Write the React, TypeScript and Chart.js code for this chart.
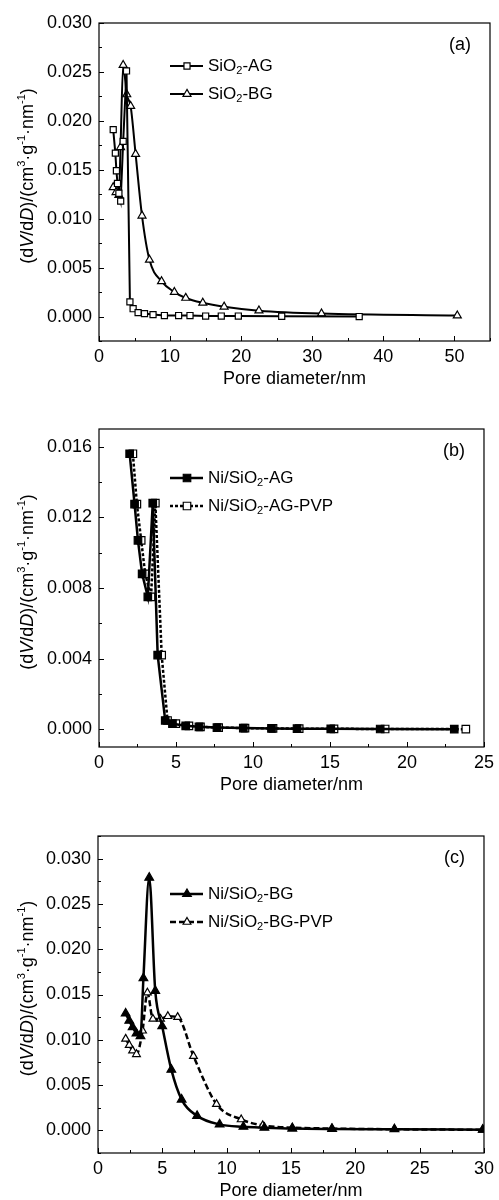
import React, { useEffect, useRef } from "react";
import { Chart, registerables } from "chart.js";

Chart.register(...registerables);

const FONT = '"Liberation Sans", Arial, Helvetica, sans-serif';

// ---- Panel (a): bare silica supports ----
const agPoreA = [2.0, 2.3, 2.45, 2.6, 2.8, 3.05, 3.4, 3.87, 4.35, 4.8, 5.5, 6.4, 7.6, 9.2, 11.2, 12.8, 15.0, 17.2, 19.6, 25.7, 36.6];
const agDvA = [0.0191, 0.0167, 0.0149, 0.0136, 0.0126, 0.0118, 0.0179, 0.0251, 0.0015, 0.0008, 0.0004, 0.0003, 0.0002, 0.0001, 0.0001, 0.0001, 0.00005, 0.00005, 0.00005, 0.00003, 0.0];
const bgPoreA = [2.0, 2.4, 2.8, 3.03, 3.4, 3.9, 4.45, 5.15, 6.05, 7.1, 8.8, 10.6, 12.2, 14.6, 17.6, 22.5, 31.3, 50.4];
const bgDvA = [0.0132, 0.0127, 0.0124, 0.0173, 0.0257, 0.0227, 0.0215, 0.0166, 0.0103, 0.0058, 0.0036, 0.0025, 0.0019, 0.0014, 0.001, 0.0006, 0.0003, 0.0001];
const xTicksA = [0, 10, 20, 30, 40, 50];
const yTicksA = [0, 0.005, 0.01, 0.015, 0.02, 0.025, 0.03];

// ---- Panel (b): Ni on SiO2-AG ----
const agPoreB = [1.99, 2.31, 2.53, 2.8, 3.17, 3.49, 3.81, 4.3, 4.77, 5.63, 6.49, 7.66, 9.37, 11.2, 12.86, 15.05, 18.26, 23.07];
const agDvB = [0.0156, 0.01275, 0.0107, 0.0088, 0.0075, 0.0128, 0.0042, 0.0005, 0.00032, 0.0002, 0.00014, 0.0001, 0.00007, 0.00005, 0.00004, 0.00003, 0.00002, 0.00001];
const pvpPoreB = [2.2, 2.46, 2.74, 3.0, 3.38, 3.66, 4.07, 4.45, 4.99, 5.84, 6.59, 7.77, 9.48, 11.3, 13.0, 15.26, 18.58, 23.82];
const pvpDvB = [0.0156, 0.01275, 0.0107, 0.0088, 0.0075, 0.0128, 0.0042, 0.0005, 0.00032, 0.0002, 0.00014, 0.0001, 0.00007, 0.00005, 0.00004, 0.00003, 0.00002, 0.00001];
const xTicksB = [0, 5, 10, 15, 20, 25];
const yTicksB = [0, 0.004, 0.008, 0.012, 0.016];

// ---- Panel (c): Ni on SiO2-BG ----
const bgPoreC = [2.15, 2.43, 2.69, 2.99, 3.3, 3.53, 3.98, 4.45, 4.99, 5.7, 6.5, 7.7, 9.45, 11.3, 12.93, 15.1, 18.2, 23.04, 29.9];
const bgDvC = [0.0129, 0.0121, 0.0114, 0.0107, 0.0104, 0.0168, 0.0279, 0.0154, 0.0115, 0.0067, 0.0034, 0.0016, 0.00066, 0.0004, 0.0003, 0.0002, 0.00015, 0.00012, 0.00008];
const pvpPoreC = [2.15, 2.43, 2.69, 2.99, 3.46, 3.84, 4.27, 4.86, 5.43, 6.19, 7.42, 9.21, 11.13, 12.8, 15.1, 18.17, 23.04, 29.9];
const pvpDvC = [0.0101, 0.0094, 0.0088, 0.0084, 0.011, 0.0152, 0.0123, 0.0123, 0.0126, 0.0125, 0.0082, 0.0029, 0.0012, 0.00055, 0.0003, 0.0002, 0.00012, 0.00006];
const xTicksC = [0, 5, 10, 15, 20, 25, 30];
const yTicksC = [0, 0.005, 0.01, 0.015, 0.02, 0.025, 0.03];

const xTitle = "Pore diameter/nm";
// rich y-axis title: [text, mode] with mode "" | "i" (italic) | "sup"
const yTitle: [string, string][] = [
  ["(d", ""], ["V", "i"], ["/d", ""], ["D", "i"], [")/(cm", ""], ["3", "sup"],
  ["·g", ""], ["-1", "sup"], ["·nm", ""], ["-1", "sup"], [")", ""],
];

type SeriesDef = {
  label: string; // "_2" marks a subscript digit
  x: number[];
  y: number[];
  marker: "rect" | "triangle";
  filled: boolean;
  radius: number;
  lineWidth: number;
  dash: number[];
  smooth: boolean;
};

type PanelDef = {
  tag: string;
  top: number;
  area: { left: number; right: number; top: number; bottom: number };
  xMin: number; xMax: number; yMin: number; yMax: number;
  xTicks: number[]; yTicks: number[];
  xMinor: number; yMinor: number;
  legendTop: number;
  series: SeriesDef[];
};

const panels: PanelDef[] = [
  {
    tag: "(a)", top: 0,
    area: { left: 99, right: 490, top: 23, bottom: 341 },
    xMin: 0, xMax: 55, yMin: -0.0025, yMax: 0.03,
    xTicks: xTicksA, yTicks: yTicksA, xMinor: 5, yMinor: 0.0025,
    legendTop: 43,
    series: [
      { label: "SiO_2-AG", x: agPoreA, y: agDvA, marker: "rect", filled: false, radius: 4.3, lineWidth: 2, dash: [], smooth: false },
      { label: "SiO_2-BG", x: bgPoreA, y: bgDvA, marker: "triangle", filled: false, radius: 4.6, lineWidth: 2, dash: [], smooth: true },
    ],
  },
  {
    tag: "(b)", top: 400,
    area: { left: 99, right: 488, top: 29, bottom: 347 },
    xMin: 0, xMax: 25, yMin: -0.001, yMax: 0.017,
    xTicks: xTicksB, yTicks: yTicksB, xMinor: 2.5, yMinor: 0.002,
    legendTop: 49,
    series: [
      { label: "Ni/SiO_2-AG", x: agPoreB, y: agDvB, marker: "rect", filled: true, radius: 5.3, lineWidth: 2.5, dash: [], smooth: false },
      { label: "Ni/SiO_2-AG-PVP", x: pvpPoreB, y: pvpDvB, marker: "rect", filled: false, radius: 5.3, lineWidth: 2.5, dash: [3, 2], smooth: false },
    ],
  },
  {
    tag: "(c)", top: 800,
    area: { left: 98, right: 489, top: 36, bottom: 353 },
    xMin: 0, xMax: 30, yMin: -0.0025, yMax: 0.0325,
    xTicks: xTicksC, yTicks: yTicksC, xMinor: 2.5, yMinor: 0.0025,
    legendTop: 58,
    series: [
      { label: "Ni/SiO_2-BG", x: bgPoreC, y: bgDvC, marker: "triangle", filled: true, radius: 5, lineWidth: 2.5, dash: [], smooth: true },
      { label: "Ni/SiO_2-BG-PVP", x: pvpPoreC, y: pvpDvC, marker: "triangle", filled: false, radius: 4.5, lineWidth: 2.5, dash: [6, 3], smooth: true },
    ],
  },
];

const W = 499;
const H = 400;

function fontFor(mode: string, size: number) {
  if (mode === "i") return `italic ${size}px ${FONT}`;
  if (mode === "sup" || mode === "sub") return `${Math.round(size * 0.62)}px ${FONT}`;
  return `${size}px ${FONT}`;
}

function drawRich(ctx: CanvasRenderingContext2D, segs: [string, string][], x: number, y: number, size: number, align: "left" | "center") {
  ctx.textBaseline = "middle";
  ctx.textAlign = "left";
  const widths = segs.map(([t, m]) => {
    ctx.font = fontFor(m, size);
    return ctx.measureText(t).width;
  });
  const total = widths.reduce((a, b) => a + b, 0);
  let cx = align === "center" ? x - total / 2 : x;
  segs.forEach(([t, m], i) => {
    ctx.font = fontFor(m, size);
    const dy = m === "sup" ? -size * 0.36 : m === "sub" ? size * 0.3 : 0;
    ctx.fillText(t, cx, y + dy);
    cx += widths[i];
  });
}

function parseLabel(label: string): [string, string][] {
  const out: [string, string][] = [];
  label.split(/(_\d)/).forEach((part) => {
    if (!part) return;
    if (part.startsWith("_")) out.push([part.slice(1), "sub"]);
    else out.push([part, ""]);
  });
  return out;
}

function drawMarker(ctx: CanvasRenderingContext2D, s: SeriesDef, x: number, y: number) {
  ctx.beginPath();
  if (s.marker === "rect") {
    const h = Math.SQRT1_2 * s.radius;
    ctx.rect(x - h, y - h, 2 * h, 2 * h);
  } else {
    const r = s.radius;
    ctx.moveTo(x, y - r);
    ctx.lineTo(x + r * Math.sin((2 * Math.PI) / 3), y - r * Math.cos((2 * Math.PI) / 3));
    ctx.lineTo(x + r * Math.sin((4 * Math.PI) / 3), y - r * Math.cos((4 * Math.PI) / 3));
    ctx.closePath();
  }
  ctx.fillStyle = s.filled ? "#000" : "#fff";
  ctx.fill();
  ctx.setLineDash([]);
  ctx.lineWidth = 1.2;
  ctx.strokeStyle = "#000";
  ctx.stroke();
}

function makeDecor(p: PanelDef) {
  return {
    id: "decor",
    afterDraw(chart: any) {
      const ctx: CanvasRenderingContext2D = chart.ctx;
      const { left, right, top, bottom } = chart.chartArea;
      const xs = chart.scales.x;
      const ys = chart.scales.y;
      ctx.save();
      ctx.strokeStyle = "#000";
      ctx.fillStyle = "#000";
      ctx.setLineDash([]);

      // inward ticks, major and minor
      ctx.lineWidth = 1;
      ctx.beginPath();
      const kx0 = Math.ceil(p.xMin / p.xMinor);
      const kx1 = Math.floor(p.xMax / p.xMinor);
      for (let k = kx0; k <= kx1; k++) {
        const v = k * p.xMinor;
        const px = Math.round(xs.getPixelForValue(v)) + 0.5;
        const major = p.xTicks.some((t) => Math.abs(t - v) < 1e-9);
        const len = major ? 5 : 3;
        ctx.moveTo(px, bottom);
        ctx.lineTo(px, bottom - len);
      }
      const ky0 = Math.ceil(p.yMin / p.yMinor - 1e-9);
      const ky1 = Math.floor(p.yMax / p.yMinor + 1e-9);
      for (let k = ky0; k <= ky1; k++) {
        const v = k * p.yMinor;
        const py = Math.round(ys.getPixelForValue(v)) + 0.5;
        const major = p.yTicks.some((t) => Math.abs(t - v) < 1e-9);
        const len = major ? 5 : 3;
        ctx.moveTo(left, py);
        ctx.lineTo(left + len, py);
      }
      ctx.stroke();

      // frame
      ctx.lineWidth = 1.2;
      ctx.strokeRect(left, top, right - left, bottom - top);

      // axis titles
      ctx.font = `18px ${FONT}`;
      ctx.textAlign = "center";
      ctx.textBaseline = "middle";
      ctx.fillText(xTitle, (left + right) / 2, bottom + 38);

      ctx.save();
      ctx.translate(28, (top + bottom) / 2 - 6);
      ctx.rotate(-Math.PI / 2);
      drawRich(ctx, yTitle, 0, 0, 18, "center");
      ctx.restore();

      // panel tag
      ctx.font = `18px ${FONT}`;
      ctx.textAlign = "right";
      ctx.textBaseline = "middle";
      ctx.fillText(p.tag, right - 19, top + 22);

      // legend
      p.series.forEach((s, i) => {
        const y = top + p.legendTop + i * 28;
        ctx.beginPath();
        ctx.setLineDash(s.dash);
        ctx.lineWidth = s.lineWidth;
        ctx.strokeStyle = "#000";
        ctx.moveTo(170, y);
        ctx.lineTo(203, y);
        ctx.stroke();
        drawMarker(ctx, s, 187, y);
        ctx.fillStyle = "#000";
        drawRich(ctx, parseLabel(s.label), 208, y, 17, "left");
      });
      ctx.restore();
    },
  };
}

function PanelChart({ p }: { p: PanelDef }) {
  const ref = useRef<HTMLCanvasElement | null>(null);
  useEffect(() => {
    if (!ref.current) return;
    const chart = new Chart(ref.current, {
      type: "line",
      data: {
        datasets: p.series.map((s) => ({
          label: s.label.replace("_", ""),
          data: s.x.map((x, i) => ({ x, y: s.y[i] })),
          borderColor: "#000",
          borderWidth: s.lineWidth,
          borderDash: s.dash,
          cubicInterpolationMode: s.smooth ? "monotone" : "default",
          tension: 0,
          pointStyle: s.marker,
          pointRadius: s.radius,
          pointBorderWidth: 1.2,
          pointBorderColor: "#000",
          pointBackgroundColor: s.filled ? "#000" : "#fff",
          fill: false,
        })),
      } as any,
      options: {
        animation: false,
        responsive: false,
        devicePixelRatio: 1,
        layout: { padding: { top: p.area.top, right: W - p.area.right, left: 0, bottom: 0 } },
        plugins: { legend: { display: false }, tooltip: { enabled: false } },
        scales: {
          x: {
            type: "linear",
            min: p.xMin,
            max: p.xMax,
            grid: { display: false, drawTicks: false },
            border: { display: false },
            ticks: {
              color: "#000",
              font: { family: FONT, size: 18 },
              padding: 5,
              maxRotation: 0,
              autoSkip: false,
              callback: (v: any) => String(v),
            },
            afterBuildTicks: (s: any) => {
              s.ticks = p.xTicks.map((v) => ({ value: v }));
            },
            afterFit: (s: any) => {
              s.height = H - p.area.bottom;
            },
          },
          y: {
            type: "linear",
            min: p.yMin,
            max: p.yMax,
            grid: { display: false, drawTicks: false },
            border: { display: false },
            ticks: {
              color: "#000",
              font: { family: FONT, size: 18 },
              padding: 7,
              autoSkip: false,
              callback: (v: any) => Number(v).toFixed(3),
            },
            afterBuildTicks: (s: any) => {
              s.ticks = p.yTicks.map((v) => ({ value: v }));
            },
            afterFit: (s: any) => {
              s.width = p.area.left;
            },
          },
        },
      } as any,
      plugins: [makeDecor(p)],
    });
    return () => chart.destroy();
  }, [p]);
  return (
    <canvas
      ref={ref}
      width={W}
      height={H}
      style={{ position: "absolute", left: 0, top: p.top, width: W, height: H }}
    />
  );
}

export default function App() {
  return (
    <div style={{ position: "absolute", left: 0, top: 0, width: W, height: 1200, background: "#fff", overflow: "hidden" }}>
      {panels.map((p) => (
        <PanelChart key={p.tag} p={p} />
      ))}
    </div>
  );
}
